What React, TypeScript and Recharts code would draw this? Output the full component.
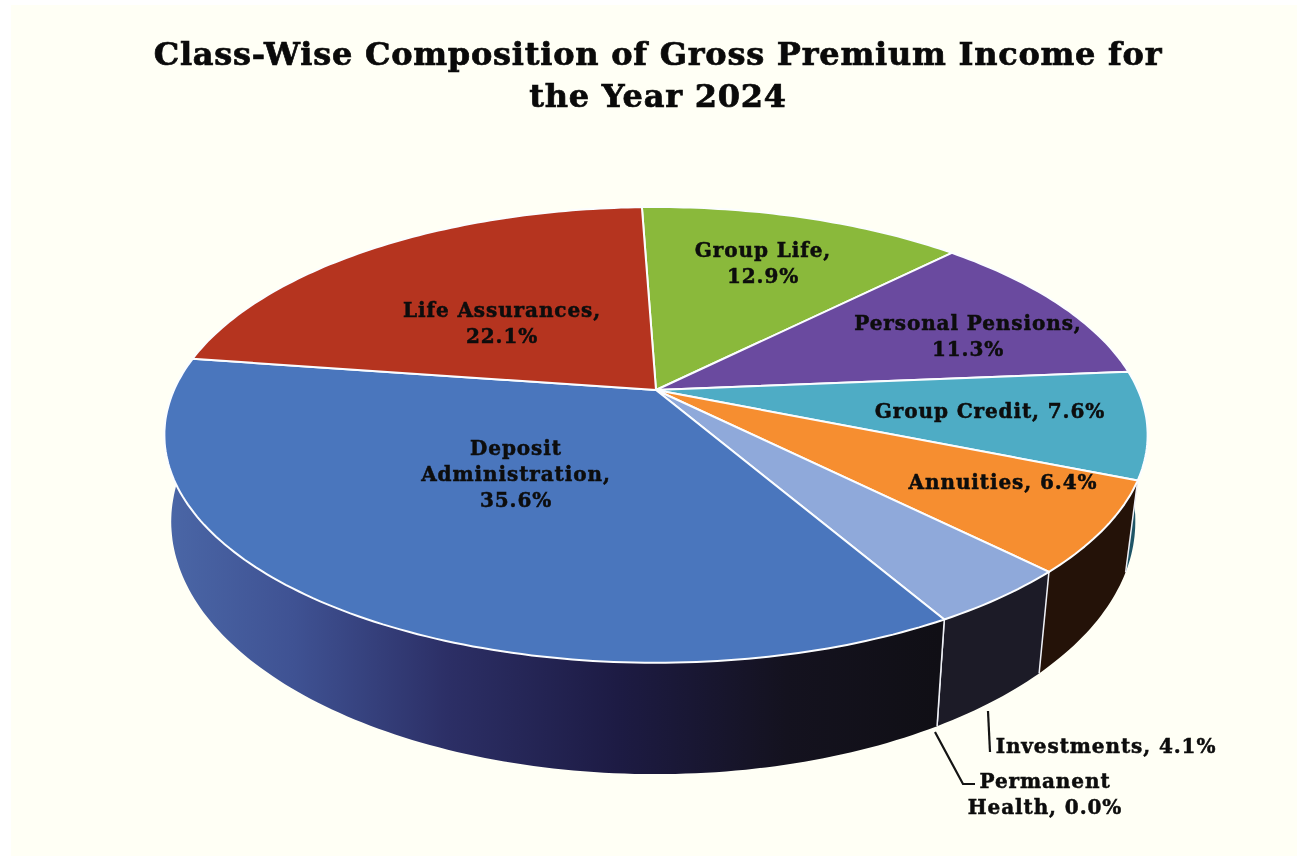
import { PieChart, Pie } from "recharts";

const categories = [
  "Group Life",
  "Personal Pensions",
  "Group Credit",
  "Annuities",
  "Investments",
  "Permanent Health",
  "Deposit Administration",
  "Life Assurances",
];
const shares = [12.9, 11.3, 7.6, 6.4, 4.1, 0.0, 35.6, 22.1];
const titleLines = ["Class-Wise Composition of Gross Premium Income for", "the Year 2024"];

const topColors = ["#8ab93b", "#6a4a9f", "#4eacc5", "#f68e30", "#8fa9da", "#8fa9da", "#4a76bd", "#b5341f"];
const wallColors = ["#4a6320", "#362552", "#1f5566", "#241208", "#1c1b27", "#1c1b27", "url(#depositWall)", "#5c1a10"];

const topRows = categories.map((name, i) => ({ name, value: shares[i], fill: topColors[i] }));
const wallRows = categories.map((name, i) => ({ name, value: shares[i], fill: wallColors[i] }));

// label placement, by category
const labelSpots: Record<string, { x: number; y: number; wrap: number[]; leader?: string }> = {
  "Group Life": { x: 763, y: 250, wrap: [2, 1] },
  "Personal Pensions": { x: 968, y: 323, wrap: [2, 1] },
  "Group Credit": { x: 990, y: 411, wrap: [3] },
  Annuities: { x: 1003, y: 482, wrap: [2] },
  Investments: { x: 1106, y: 746, wrap: [2], leader: "988,711 990,752" },
  "Permanent Health": { x: 1045, y: 781, wrap: [1, 2], leader: "935,732 963,784 975,784" },
  "Deposit Administration": { x: 516, y: 448, wrap: [1, 1, 1] },
  "Life Assurances": { x: 502, y: 310, wrap: [2, 1] },
};

const FONT = '"DejaVu Serif", serif';
const CX = 656;
const CY = 390;
const RADIUS = 482;
const START = 92;
const TILT = 0.295;
const PERSP = 0.197;

// circle on the pie plane -> perspective view of the top face
const rim = (cx: number, cy: number, r: number, deg: number) => {
  const a = (deg * Math.PI) / 180;
  const X = Math.cos(a);
  const Y = -Math.sin(a);
  const w = 1 - PERSP * Y;
  return [cx + (r * X) / w, (r * TILT * Y + cy) / w];
};

// same point on the lower face of the disc
const lower = (cx: number, p: number[]) => [
  cx + (p[0] - cx) * (p[0] < cx ? 0.986 : 0.975),
  1.108 * p[1] + 39.8,
];

const arcPoints = (cx: number, cy: number, r: number, from: number, to: number) => {
  const n = Math.max(1, Math.ceil(Math.abs(to - from)));
  return Array.from({ length: n + 1 }, (_, i) => rim(cx, cy, r, from + ((to - from) * i) / n));
};

const toPath = (pts: number[][]) =>
  pts.map((p, i) => `${i ? "L" : "M"}${p[0].toFixed(1)} ${p[1].toFixed(1)}`).join(" ");

const TopSlice = (props: any) => {
  const { cx, cy, outerRadius, startAngle, endAngle, fill } = props;
  if (startAngle === endAngle) return <g />;
  const pts = arcPoints(cx, cy, outerRadius, startAngle, endAngle);
  return (
    <path
      d={`M${cx} ${cy} ${toPath(pts).replace("M", "L")} Z`}
      fill={fill}
      stroke="#fbfdff"
      strokeWidth={2}
      strokeLinejoin="round"
    />
  );
};

const WallSlice = (props: any) => {
  const { cx, cy, outerRadius, startAngle, endAngle, fill } = props;
  const top = arcPoints(cx, cy, outerRadius, startAngle, endAngle);
  const bottom = top.map((p) => lower(cx, p)).reverse();
  const a = top[0];
  const b = lower(cx, a);
  return (
    <g>
      <path d={`${toPath(top)} ${toPath(bottom).replace("M", "L")} Z`} fill={fill} />
      <line x1={a[0]} y1={a[1]} x2={b[0]} y2={b[1]} stroke="#eef0f6" strokeWidth={1.5} />
    </g>
  );
};

const SliceLabel = (props: any) => {
  const spot = labelSpots[props.name];
  if (!spot) return null;
  const words = `${props.name}, ${Number(props.value).toFixed(1)}%`.split(" ");
  let used = 0;
  const lines = spot.wrap.map((count) => {
    const line = words.slice(used, used + count).join(" ");
    used += count;
    return line;
  });
  return (
    <g>
      {spot.leader && <polyline points={spot.leader} fill="none" stroke="#141414" strokeWidth={2.2} />}
      {lines.map((line, i) => (
        <text
          key={line}
          x={spot.x}
          y={spot.y + i * 26}
          textAnchor="middle"
          dominantBaseline="central"
          fontFamily={FONT}
          fontWeight={700}
          fontSize={20}
          letterSpacing={0.9}
          fill="#0d0d0d"
          stroke="#0d0d0d"
          strokeWidth={0.5}
        >
          {line}
        </text>
      ))}
    </g>
  );
};

export default function App() {
  return (
    <div
      style={{
        position: "fixed",
        left: 0,
        top: 0,
        width: 1297,
        height: 856,
        background: "#ffffff",
        overflow: "hidden",
        filter: "blur(0.6px)",
      }}
    >
      <PieChart width={1297} height={856} margin={{ top: 0, right: 0, bottom: 0, left: 0 }}>
        <defs>
          <linearGradient id="depositWall" gradientUnits="userSpaceOnUse" x1={170} y1={0} x2={940} y2={0}>
            <stop offset="0" stopColor="#4a66a6" />
            <stop offset="0.16" stopColor="#3f5293" />
            <stop offset="0.36" stopColor="#2c2f66" />
            <stop offset="0.58" stopColor="#1d1b44" />
            <stop offset="0.8" stopColor="#14121f" />
            <stop offset="1" stopColor="#100f15" />
          </linearGradient>
        </defs>
        <rect x={11} y={5} width={1286} height={851} fill="#fffff5" />
        {titleLines.map((line, i) => (
          <text
            key={line}
            x={658}
            y={65 + i * 42}
            textAnchor="middle"
            fontFamily={FONT}
            fontWeight={700}
            fontSize={32}
            letterSpacing={0.75}
            fill="#0a0a0a"
            stroke="#0a0a0a"
            strokeWidth={0.7}
          >
            {line}
          </text>
        ))}
        <Pie
          data={wallRows}
          dataKey="value"
          nameKey="name"
          cx={CX}
          cy={CY}
          outerRadius={RADIUS}
          startAngle={START}
          endAngle={START - 360}
          paddingAngle={0}
          shape={WallSlice}
          label={false}
          labelLine={false}
          isAnimationActive={false}
        />
        <Pie
          data={topRows}
          dataKey="value"
          nameKey="name"
          cx={CX}
          cy={CY}
          outerRadius={RADIUS}
          startAngle={START}
          endAngle={START - 360}
          paddingAngle={0}
          shape={TopSlice}
          label={SliceLabel}
          labelLine={false}
          isAnimationActive={false}
        />
      </PieChart>
    </div>
  );
}
